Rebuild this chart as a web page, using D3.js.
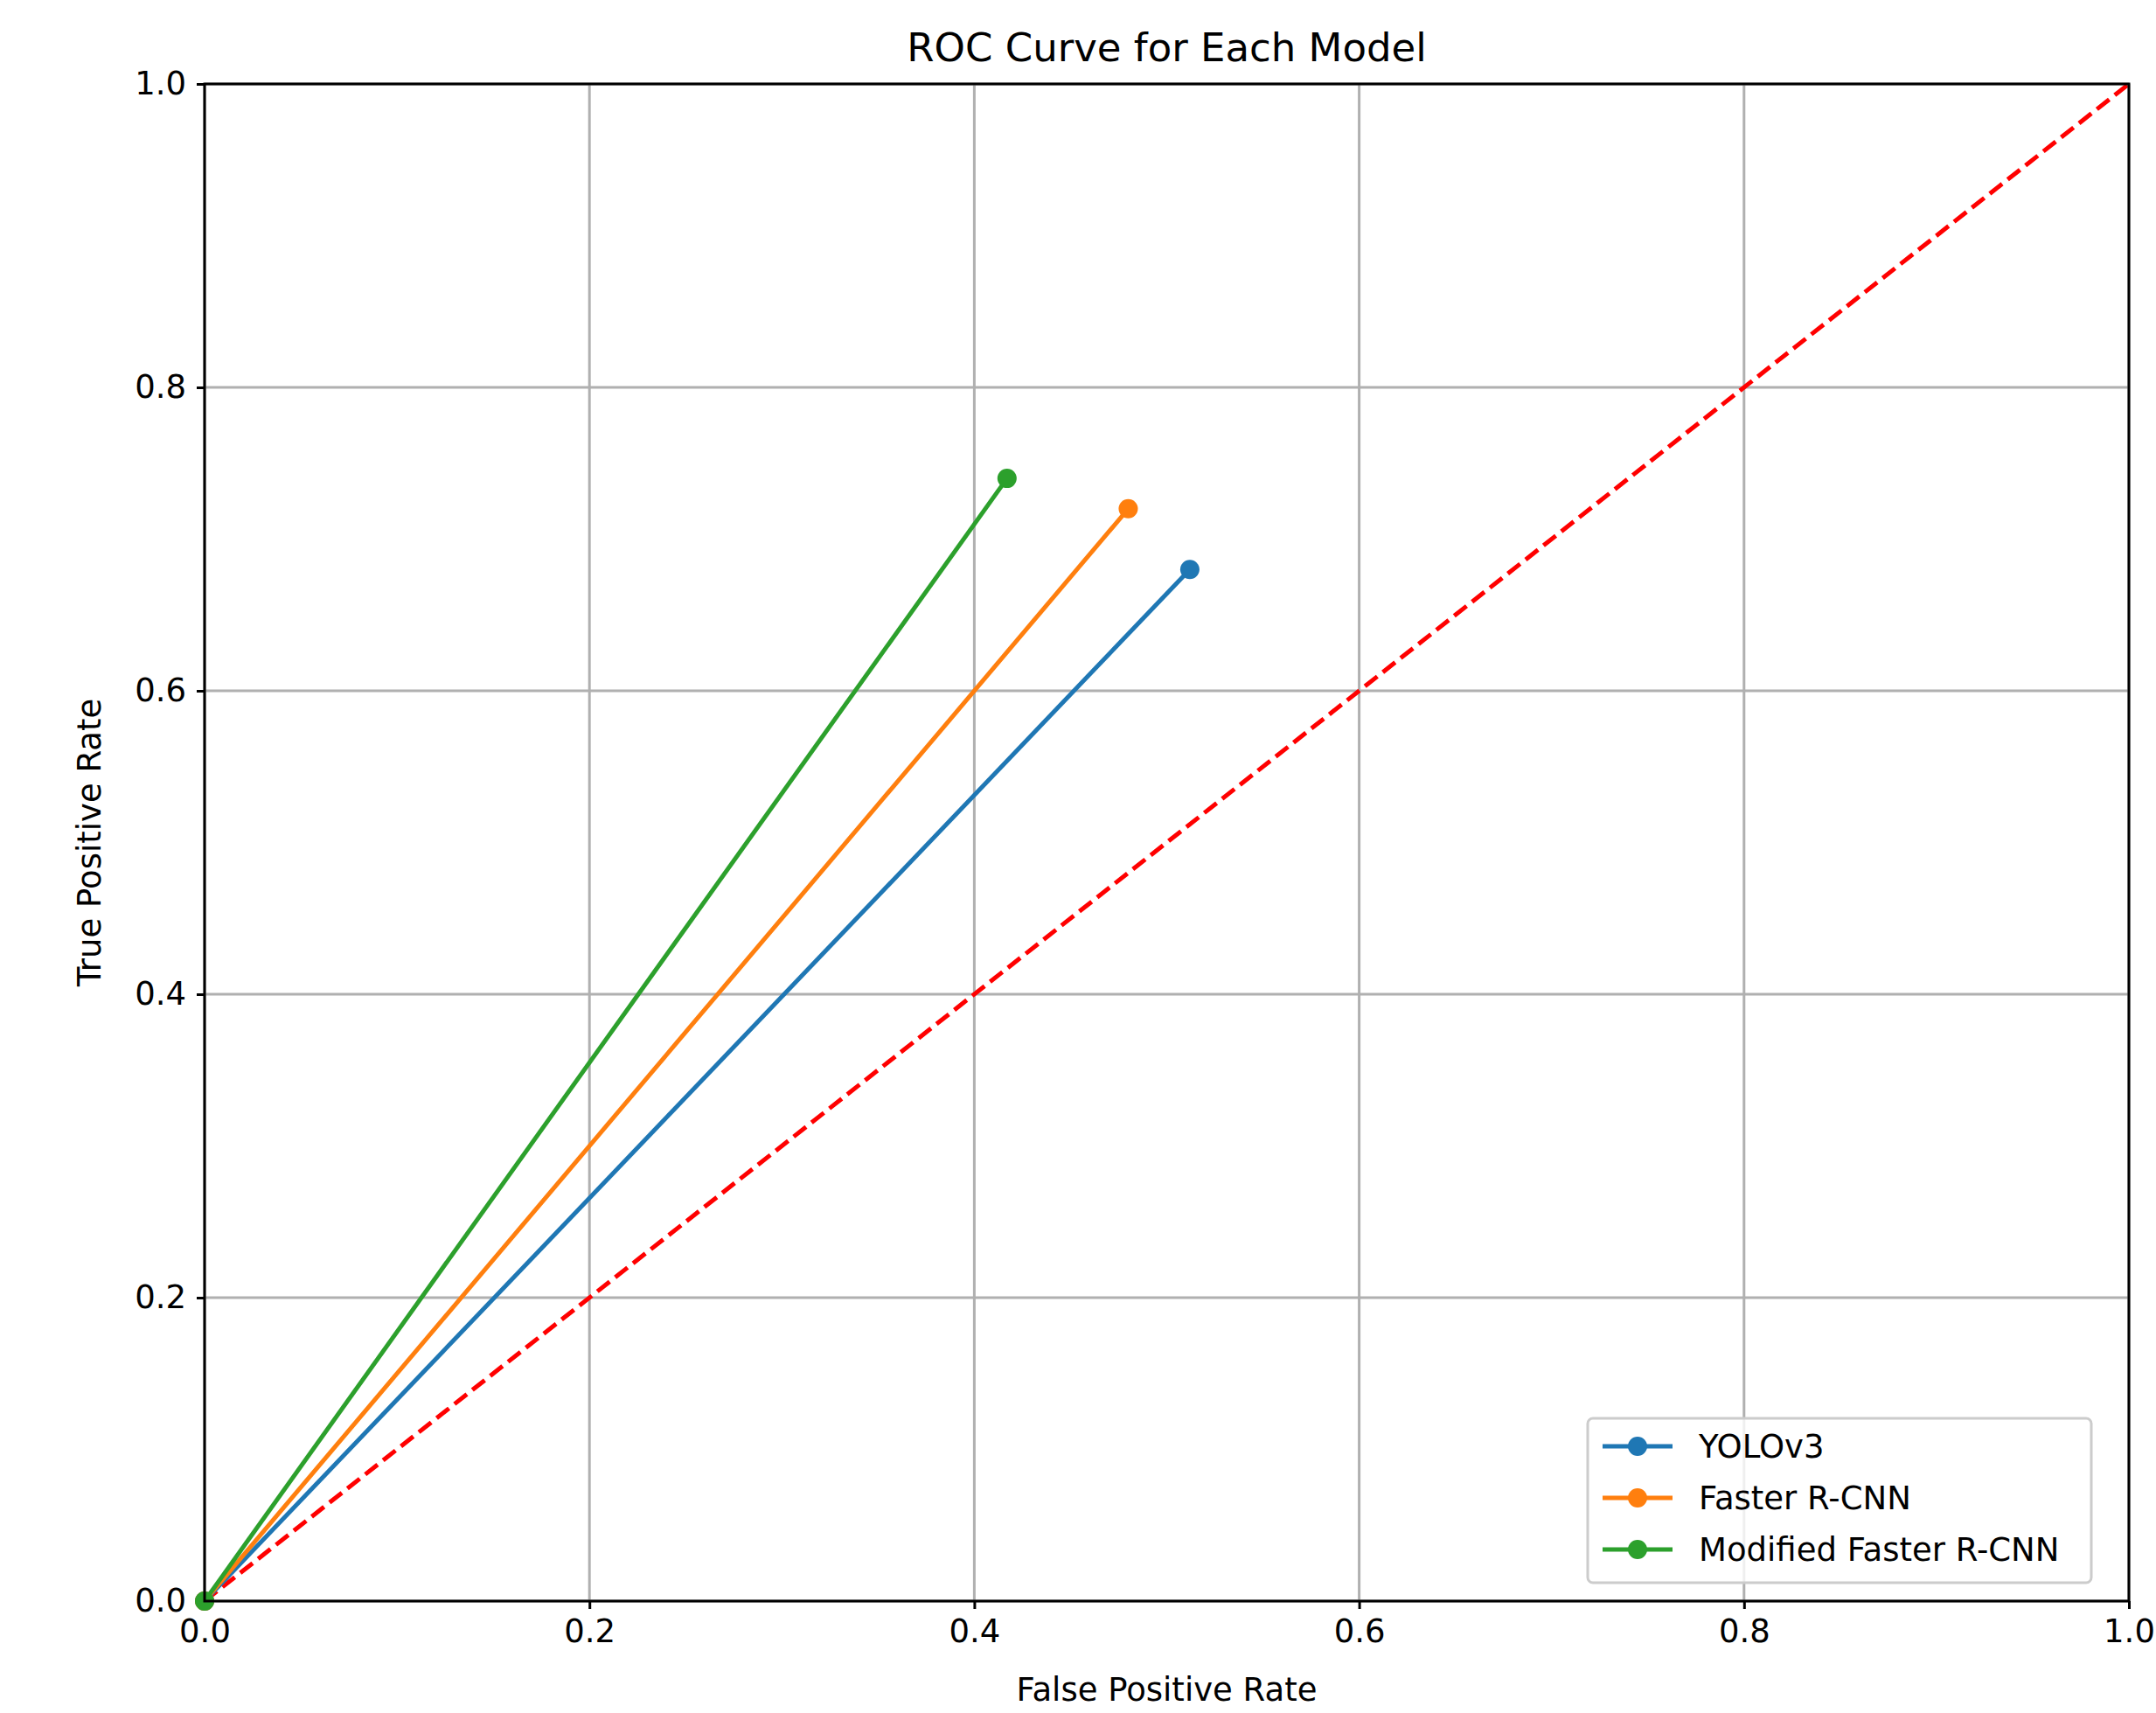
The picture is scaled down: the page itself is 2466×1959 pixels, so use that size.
<!DOCTYPE html><html><head><meta charset="utf-8"><script src="https://cdn.jsdelivr.net/npm/d3@7"></script>
<style>body{margin:0;background:#fff}text{font-family:"DejaVu Sans";fill:#000}</style></head><body>
<svg id="c" width="2466" height="1959"></svg>
<script>
const models=["YOLOv3","Faster R-CNN","Modified Faster R-CNN"];
const colors=["#1f77b4","#ff7f0e","#2ca02c"];
const fprs=[[0,0.512],[0,0.48],[0,0.417]];
const tprs=[[0,0.68],[0,0.72],[0,0.74]];
const ticks=[0,0.2,0.4,0.6,0.8,1.0];
const L=234,R=2435,T=96,B=1831;
const svg=d3.select("#c");
const x=d3.scaleLinear([0,1],[L,R]), y=d3.scaleLinear([0,1],[B,T]);
const g=svg.append("g");
ticks.forEach(t=>{
 g.append("line").attr("x1",x(t)).attr("x2",x(t)).attr("y1",T).attr("y2",B).attr("stroke","#b0b0b0").attr("stroke-width",3);
 g.append("line").attr("y1",y(t)).attr("y2",y(t)).attr("x1",L).attr("x2",R).attr("stroke","#b0b0b0").attr("stroke-width",3);
});
const xa=svg.append("g").attr("transform",`translate(0,${B})`).call(d3.axisBottom(x).tickValues(ticks).tickFormat(d3.format(".1f")).tickSize(9).tickPadding(12));
const ya=svg.append("g").attr("transform",`translate(${L},0)`).call(d3.axisLeft(y).tickValues(ticks).tickFormat(d3.format(".1f")).tickSize(9).tickPadding(12));
[xa,ya].forEach(a=>{a.selectAll("text").attr("font-size",37).attr("font-family","DejaVu Sans");a.selectAll("line").attr("stroke-width",3);a.select(".domain").remove();});
svg.append("line").attr("x1",x(0)).attr("y1",y(0)).attr("x2",x(1)).attr("y2",y(1)).attr("stroke","red").attr("stroke-width",5).attr("stroke-dasharray","18,8");
const line=d3.line().x(d=>x(d[0])).y(d=>y(d[1]));
models.forEach((m,i)=>{
 const pts=fprs[i].map((f,j)=>[f,tprs[i][j]]);
 svg.append("path").attr("d",line(pts)).attr("fill","none").attr("stroke",colors[i]).attr("stroke-width",5);
 svg.selectAll(null).data(pts).enter().append("circle").attr("cx",d=>x(d[0])).attr("cy",d=>y(d[1])).attr("r",11).attr("fill",colors[i]);
});
svg.append("rect").attr("x",L).attr("y",T).attr("width",R-L).attr("height",B-T).attr("fill","none").attr("stroke","#000").attr("stroke-width",3);
svg.append("text").attr("x",(L+R)/2).attr("y",T-26).attr("text-anchor","middle").attr("font-size",45).text("ROC Curve for Each Model");
svg.append("text").attr("x",(L+R)/2).attr("y",1945).attr("text-anchor","middle").attr("font-size",37).text("False Positive Rate");
svg.append("text").attr("transform",`translate(115,${(T+B)/2}) rotate(-90)`).attr("text-anchor","middle").attr("font-size",37).text("True Positive Rate");
const lg=svg.append("g");
lg.append("rect").attr("x",1816).attr("y",1622).attr("width",576).attr("height",188).attr("rx",6).attr("fill","#fff").attr("fill-opacity",0.8).attr("stroke","#ccc").attr("stroke-width",3);
models.forEach((m,i)=>{
 const yy=1654+i*59;
 lg.append("line").attr("x1",1833).attr("x2",1913).attr("y1",yy).attr("y2",yy).attr("stroke",colors[i]).attr("stroke-width",5);
 lg.append("circle").attr("cx",1873).attr("cy",yy).attr("r",11).attr("fill",colors[i]);
 lg.append("text").attr("x",1943).attr("y",yy+13).attr("font-size",37).text(m);
});
</script></body></html>
